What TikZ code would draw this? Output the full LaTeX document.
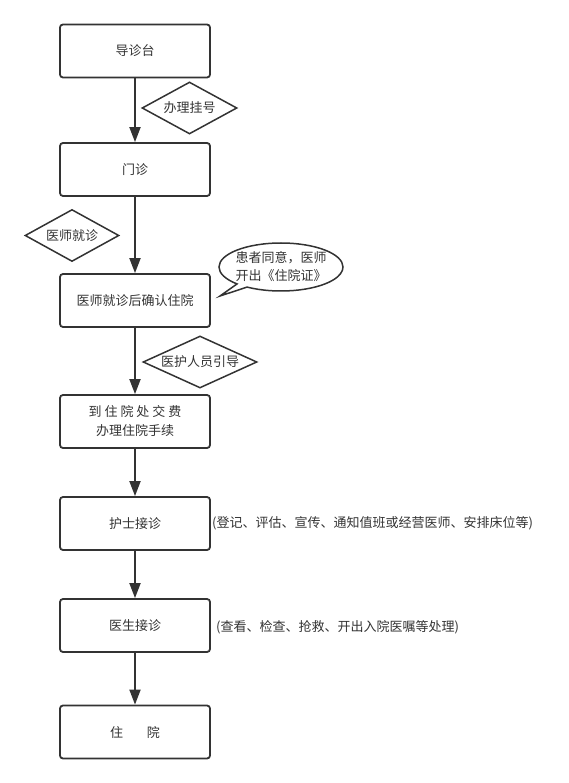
\documentclass[tikz,border=0pt]{standalone}
\usepackage{fontspec}
\setmainfont{Noto Sans CJK SC}
\usepackage{xcolor}
\usepackage{tikz}
\usetikzlibrary{arrows.meta,shapes.geometric,shapes.callouts}
\definecolor{ink}{HTML}{333333}

\begin{document}
\begin{tikzpicture}[x=1pt,y=-1pt,
  every node/.style={text=ink,font=\fontsize{13}{19}\selectfont},
  box/.style={draw=ink,line width=1.8pt,rounded corners=3pt,minimum width=150pt,minimum height=53pt,inner sep=0pt,align=center},
  cond/.style={draw=ink,line width=1.5pt,diamond,inner sep=0pt,minimum height=52pt},
  flow/.style={draw=ink,line width=1.8pt,-{Triangle[length=15pt,width=11pt]}}]
  \useasboundingbox (0,0) rectangle (568,783);
  % main column
  \node[box] (desk)  at (135,51)    {导诊台};
  \node[box] (clinic) at (135,169.5) {门诊};
  \node[box] (confirm) at (135,300.5) {医师就诊后确认住院};
  \node[box] (pay)   at (135,421.5) {到 住 院 处 交 费\\办理住院手续};
  \node[box] (nurse) at (135,523.5) {护士接诊};
  \node[box] (doctor) at (135,625.5) {医生接诊};
  \node[box] (ward)  at (135,732)   {住\hspace{24pt}院};
  % conditions beside the arrows
  \node[cond,aspect=1.83,minimum width=95pt]  (reg)   at (189.5,108) {办理挂号};
  \node[cond,aspect=1.77,minimum width=94pt]  (visit) at (72,235.5)  {医师就诊};
  \node[cond,aspect=2.19,minimum width=114pt] (guide) at (200,362)   {医护人员引导};
  % notes
  \node[anchor=west,inner sep=0pt] (note1) at (212,523.5) {(登记、评估、宣传、通知值班或经营医师、安排床位等)};
  \node[anchor=west,inner sep=0pt] (note2) at (216,627)   {(查看、检查、抢救、开出入院医嘱等处理)};
  % speech bubble
  \coordinate (tip) at (220,296);
  \node[ellipse callout,draw=ink,line width=1.5pt,minimum width=124pt,minimum height=48pt,
    inner xsep=-2pt,inner ysep=1pt,font=\fontsize{13}{18}\selectfont,
    align=left,callout absolute pointer={(tip)},callout pointer arc=12] (bubble) at (281,267)
    {患者同意，医师\\开出《住院证》};
  % arrows
  \draw[flow] (desk) -- (clinic);
  \draw[flow] (clinic) -- (confirm);
  \draw[flow] (confirm) -- (pay);
  \draw[flow] (pay) -- (nurse);
  \draw[flow] (nurse) -- (doctor);
  \draw[flow] (doctor) -- (ward);
\end{tikzpicture}
\end{document}
